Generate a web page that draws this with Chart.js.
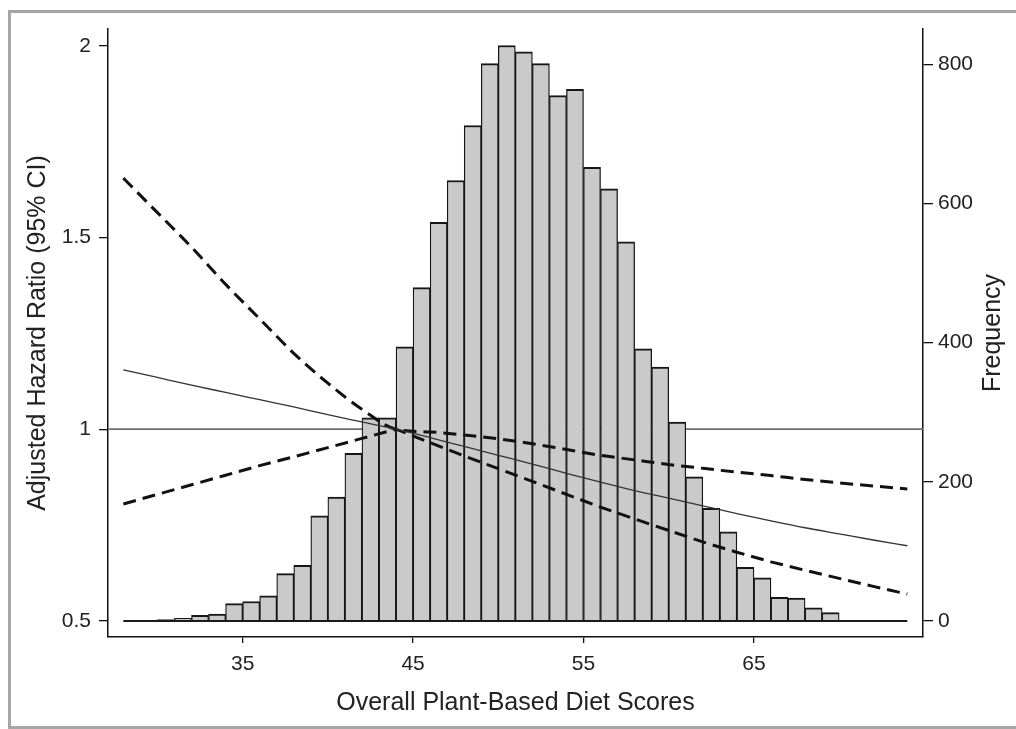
<!DOCTYPE html>
<html>
<head>
<meta charset="utf-8">
<title>Overall PDI and hazard ratio</title>
<script src="https://cdn.jsdelivr.net/npm/chart.js@4.4.1/dist/chart.umd.min.js"></script>
<style>
    html, body { margin: 0; padding: 0; background: #fff; }
    #wrap { position: relative; width: 1016px; height: 729px; }
</style>
</head>
<body>
<div id="wrap"><canvas id="pdiChart"></canvas></div>
<script>
// Histogram: left edge of each 1-point bin and its count
const binStart = [
    28, 29, 30, 31, 32, 33, 34, 35, 36, 37, 38, 39, 40, 41, 42, 43,
    44, 45, 46, 47, 48, 49, 50, 51, 52, 53, 54, 55, 56, 57, 58, 59,
    60, 61, 62, 63, 64, 65, 66, 67, 68, 69, 70, 71, 72, 73
];
const frequency = [
    0, 0, 2, 4, 8, 10, 25, 28, 36, 68, 80, 151, 178, 241, 292, 292,
    394, 479, 573, 633, 712, 801, 827, 818, 801, 755, 764, 652, 621, 545, 391, 365,
    286, 207, 162, 128, 77, 62, 34, 33, 19, 12, 0, 0, 0, 0
];

// Hazard ratio curve (with 95% CI) read at these scores
const scoreX = [28, 30, 32, 34, 36, 38, 40, 42, 44, 46, 48, 50, 52, 54, 56, 58, 60, 62, 64, 66, 68, 70, 72, 74];
const hrEstimate = [
    1.155, 1.135, 1.115, 1.096, 1.077, 1.058, 1.038, 1.019, 1.000, 0.978, 0.955, 0.932,
    0.909, 0.885, 0.862, 0.840, 0.820, 0.800, 0.780, 0.761, 0.743, 0.727, 0.711, 0.696
];
const hrUpper = [
    1.655, 1.565, 1.475, 1.378, 1.288, 1.198, 1.120, 1.052, 1.000, 0.993, 0.985, 0.975,
    0.962, 0.947, 0.932, 0.920, 0.908, 0.898, 0.888, 0.879, 0.869, 0.860, 0.852, 0.844
];
const hrLower = [
    0.805, 0.830, 0.855, 0.880, 0.905, 0.928, 0.952, 0.976, 1.000, 0.965, 0.930, 0.897,
    0.864, 0.830, 0.797, 0.766, 0.736, 0.706, 0.679, 0.654, 0.632, 0.611, 0.590, 0.570
];

// Axes
const xTicks = [35, 45, 55, 65];
const hrTicks = [0.5, 1, 1.5, 2];
const freqTicks = [0, 200, 400, 600, 800];
const xMin = 27.1, xMax = 74.92;
const hrMin = 0.458, hrMax = 2.044;
const freqMin = -23, freqMax = 850.7;
const referenceHR = 1;

const tickFont = { family: '"Liberation Sans", Arial, sans-serif', size: 21 };
const titleFont = { family: '"Liberation Sans", Arial, sans-serif', size: 25 };

Chart.defaults.font.family = '"Liberation Sans", Arial, sans-serif';
Chart.defaults.color = '#222';

function toPoints(xs, ys) {
    return xs.map((x, i) => ({ x: x, y: ys[i] }));
}

// outer grey frame + right-hand title (reads bottom to top like the left one)
const framePlugin = {
    id: 'frame',
    afterDraw(chart) {
        const ctx = chart.ctx;
        const area = chart.chartArea;
        ctx.save();
        ctx.strokeStyle = '#a6a6a6';
        ctx.lineWidth = 3;
        ctx.strokeRect(9.5, 11.5, 1030, 716);
        ctx.translate(area.right + 70, (area.top + area.bottom) / 2);
        ctx.rotate(-Math.PI / 2);
        ctx.font = '25px "Liberation Sans", Arial, sans-serif';
        ctx.fillStyle = '#222';
        ctx.textAlign = 'center';
        ctx.textBaseline = 'middle';
        ctx.fillText('Frequency', 0, 0);
        ctx.restore();
    }
};

function initChart() {
    const ctx = document.getElementById('pdiChart').getContext('2d');
    const lastEdge = binStart[binStart.length - 1] + 1;

    new Chart(ctx, {
        type: 'bar',
        data: {
            datasets: [
                {
                    type: 'line',
                    label: 'HR',
                    data: toPoints(scoreX, hrEstimate),
                    yAxisID: 'y',
                    borderColor: '#333',
                    borderWidth: 1.3,
                    cubicInterpolationMode: 'monotone',
                    pointRadius: 0,
                    order: 0
                },
                {
                    type: 'line',
                    label: 'Upper CI',
                    data: toPoints(scoreX, hrUpper),
                    yAxisID: 'y',
                    borderColor: '#111',
                    borderWidth: 3,
                    borderDash: [13, 7],
                    cubicInterpolationMode: 'monotone',
                    pointRadius: 0,
                    order: 1
                },
                {
                    type: 'line',
                    label: 'Lower CI',
                    data: toPoints(scoreX, hrLower),
                    yAxisID: 'y',
                    borderColor: '#111',
                    borderWidth: 3,
                    borderDash: [13, 7],
                    tension: 0,
                    pointRadius: 0,
                    order: 1
                },
                {
                    type: 'line',
                    label: 'baseline',
                    data: [{ x: binStart[0], y: 0 }, { x: lastEdge, y: 0 }],
                    yAxisID: 'y1',
                    borderColor: '#1a1a1a',
                    borderWidth: 2,
                    pointRadius: 0,
                    order: 2
                },
                {
                    type: 'bar',
                    label: 'Frequency',
                    data: binStart.map((s, i) => ({ x: s + 0.5, y: frequency[i] })),
                    yAxisID: 'y1',
                    backgroundColor: '#cacaca',
                    borderColor: '#161616',
                    borderWidth: { top: 2, left: 1.3, right: 1.3, bottom: 0 },
                    borderSkipped: false,
                    barPercentage: 1,
                    categoryPercentage: 1,
                    grouped: false,
                    order: 3
                },
                {
                    type: 'line',
                    label: 'reference',
                    data: [{ x: xMin, y: referenceHR }, { x: xMax, y: referenceHR }],
                    yAxisID: 'y',
                    borderColor: '#6e6e6e',
                    borderWidth: 1.7,
                    pointRadius: 0,
                    order: 4
                }
            ]
        },
        options: {
            responsive: true,
            maintainAspectRatio: false,
            animation: false,
            events: [],
            layout: { padding: { top: 29, left: 0, right: 0, bottom: 0 } },
            plugins: {
                legend: { display: false },
                tooltip: { enabled: false }
            },
            scales: {
                x: {
                    type: 'linear',
                    position: 'bottom',
                    min: xMin,
                    max: xMax,
                    offset: false,
                    afterBuildTicks: (scale) => { scale.ticks = xTicks.map(v => ({ value: v })); },
                    afterFit: (scale) => { scale.height = 92; },
                    grid: { drawOnChartArea: false, drawTicks: true, tickLength: 6, color: '#111', lineWidth: 1.3, offset: false },
                    border: { display: true, color: '#111', width: 1.5 },
                    ticks: { font: tickFont, color: '#222', padding: 9, maxRotation: 0, autoSkip: false },
                    title: {
                        display: true,
                        text: 'Overall Plant-Based Diet Scores',
                        font: titleFont,
                        color: '#222',
                        padding: { top: 0, bottom: 11 }
                    }
                },
                y: {
                    type: 'linear',
                    position: 'left',
                    min: hrMin,
                    max: hrMax,
                    afterBuildTicks: (scale) => { scale.ticks = hrTicks.map(v => ({ value: v })); },
                    afterFit: (scale) => { scale.width = 108; },
                    grid: { drawOnChartArea: false, drawTicks: true, tickLength: 9, color: '#111', lineWidth: 1.3 },
                    border: { display: true, color: '#111', width: 1.5 },
                    ticks: { font: tickFont, color: '#222', padding: 8, callback: (v) => String(v) },
                    title: {
                        display: true,
                        text: 'Adjusted Hazard Ratio (95% CI)',
                        font: titleFont,
                        color: '#222',
                        padding: { top: 23, bottom: 0 }
                    }
                },
                y1: {
                    type: 'linear',
                    position: 'right',
                    min: freqMin,
                    max: freqMax,
                    afterBuildTicks: (scale) => { scale.ticks = freqTicks.map(v => ({ value: v })); },
                    afterFit: (scale) => { scale.width = 93; },
                    grid: { drawOnChartArea: false, drawTicks: true, tickLength: 10, color: '#111', lineWidth: 1.3 },
                    border: { display: true, color: '#111', width: 1.5 },
                    ticks: { font: tickFont, color: '#222', padding: 5 }
                }
            }
        },
        plugins: [framePlugin]
    });
}

document.addEventListener('DOMContentLoaded', initChart);
</script>
</body>
</html>
